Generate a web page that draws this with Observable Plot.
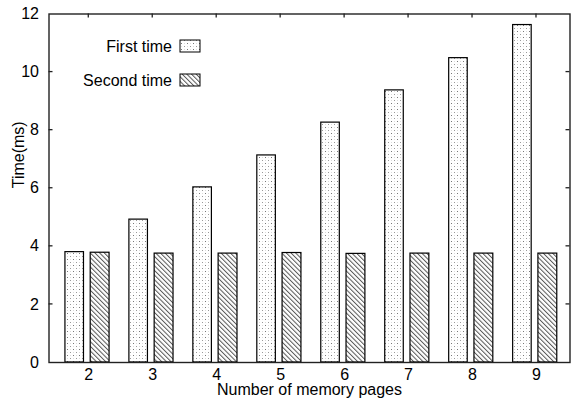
<!DOCTYPE html>
<html>
<head>
<meta charset="utf-8">
<script src="https://cdn.jsdelivr.net/npm/d3@7"></script>
<script src="https://cdn.jsdelivr.net/npm/@observablehq/plot@0.6"></script>
<style>
  html, body { margin: 0; padding: 0; background: #fff; }
  #chart svg { display: block; }
</style>
</head>
<body>
<div id="chart"></div>
<script>
const pages = [2, 3, 4, 5, 6, 7, 8, 9];
const firstTime = [3.8, 4.92, 6.03, 7.13, 8.26, 9.37, 10.48, 11.62];
const secondTime = [3.78, 3.75, 3.75, 3.77, 3.74, 3.75, 3.75, 3.75];
const yTicks = [0, 2, 4, 6, 8, 10, 12];
const seriesNames = ["First time", "Second time"];
const xLabel = "Number of memory pages";
const yLabel = "Time(ms)";

const FONT = "Liberation Sans, Arial, Helvetica, sans-serif";
const firstData = pages.map((p, i) => ({page: p, value: firstTime[i]}));
const secondData = pages.map((p, i) => ({page: p, value: secondTime[i]}));

const plot = Plot.plot({
  width: 571,
  height: 398,
  marginLeft: 48.5,
  marginRight: 1.5,
  marginTop: 13.5,
  marginBottom: 36,
  style: {fontFamily: FONT, fontSize: "16px", color: "#000", background: "#fff"},
  x: {type: "linear", domain: [1.378, 9.524], ticks: pages, tickFormat: d => String(d), tickSize: 0, tickPadding: 6, label: null},
  y: {domain: [0, 12], ticks: yTicks, tickFormat: d => String(d), tickSize: 0, tickPadding: 10, label: null},
  marks: [
    Plot.rect(firstData, {x1: d => d.page - 0.365, x2: d => d.page - 0.075, y1: 0, y2: "value", fill: "url(#dots)", stroke: "#000", strokeWidth: 1.2}),
    Plot.rect(secondData, {x1: d => d.page + 0.03, x2: d => d.page + 0.325, y1: 0, y2: "value", fill: "url(#hatch)", stroke: "#000", strokeWidth: 1.2}),
    Plot.frame({stroke: "#222", strokeWidth: 1.4}),
    Plot.text([xLabel], {frameAnchor: "bottom", dy: 27.5, lineAnchor: "middle", fontSize: 16, fill: "#000"}),
    Plot.text([yLabel], {frameAnchor: "left", dx: -30, dy: 0, rotate: -90, fontSize: 16, fill: "#000"})
  ]
});

const svg = d3.select(plot);
const defs = svg.insert("defs", ":first-child");
const dots = defs.append("pattern").attr("id", "dots").attr("patternUnits", "userSpaceOnUse")
  .attr("width", 6).attr("height", 6);
dots.append("rect").attr("width", 6).attr("height", 6).attr("fill", "#fff");
dots.append("rect").attr("x", 1).attr("y", 1).attr("width", 1).attr("height", 1).attr("fill", "#777");
dots.append("rect").attr("x", 4).attr("y", 4).attr("width", 1).attr("height", 1).attr("fill", "#999");
dots.append("rect").attr("x", 4).attr("y", 1).attr("width", 1).attr("height", 1).attr("fill", "#ddd");
dots.append("rect").attr("x", 1).attr("y", 4).attr("width", 1).attr("height", 1).attr("fill", "#ddd");
const hatch = defs.append("pattern").attr("id", "hatch").attr("patternUnits", "userSpaceOnUse")
  .attr("width", 3.3).attr("height", 10).attr("patternTransform", "rotate(-45)");
hatch.append("rect").attr("width", 3.3).attr("height", 10).attr("fill", "#fff");
hatch.append("line").attr("x1", 0.5).attr("y1", 0).attr("x2", 0.5).attr("y2", 10)
  .attr("stroke", "#555").attr("stroke-width", 1);

// mirrored inward ticks (gnuplot style)
const xs = plot.scale("x"), ys = plot.scale("y");
const [fx0, fx1] = xs.range, [fy0, fy1] = ys.range; // fy0 bottom, fy1 top
const tickG = svg.append("g").attr("stroke", "#222").attr("stroke-width", 1.3);
for (const t of yTicks) {
  const py = ys.apply(t);
  if (t === 0 || t === 12) continue;
  tickG.append("line").attr("x1", fx0).attr("x2", fx0 + 4).attr("y1", py).attr("y2", py);
  tickG.append("line").attr("x1", fx1).attr("x2", fx1 - 4).attr("y1", py).attr("y2", py);
}
for (const p of pages) {
  const px = xs.apply(p);
  tickG.append("line").attr("x1", px).attr("x2", px).attr("y1", fy1).attr("y2", fy1 + 4);
}

// legend
const leg = svg.append("g").attr("font-family", FONT).attr("font-size", 16);
const legendItems = [{name: seriesNames[0], fill: "url(#dots)"}, {name: seriesNames[1], fill: "url(#hatch)"}];
legendItems.forEach((it, i) => {
  const cy = 46 + i * 34;
  leg.append("text").attr("x", 172).attr("y", cy).attr("dy", "0.35em").attr("text-anchor", "end").text(it.name);
  leg.append("rect").attr("x", 180).attr("y", cy - 6).attr("width", 20).attr("height", 12)
    .attr("fill", it.fill).attr("stroke", "#000").attr("stroke-width", 1);
});

document.getElementById("chart").appendChild(plot);
</script>
</body>
</html>
